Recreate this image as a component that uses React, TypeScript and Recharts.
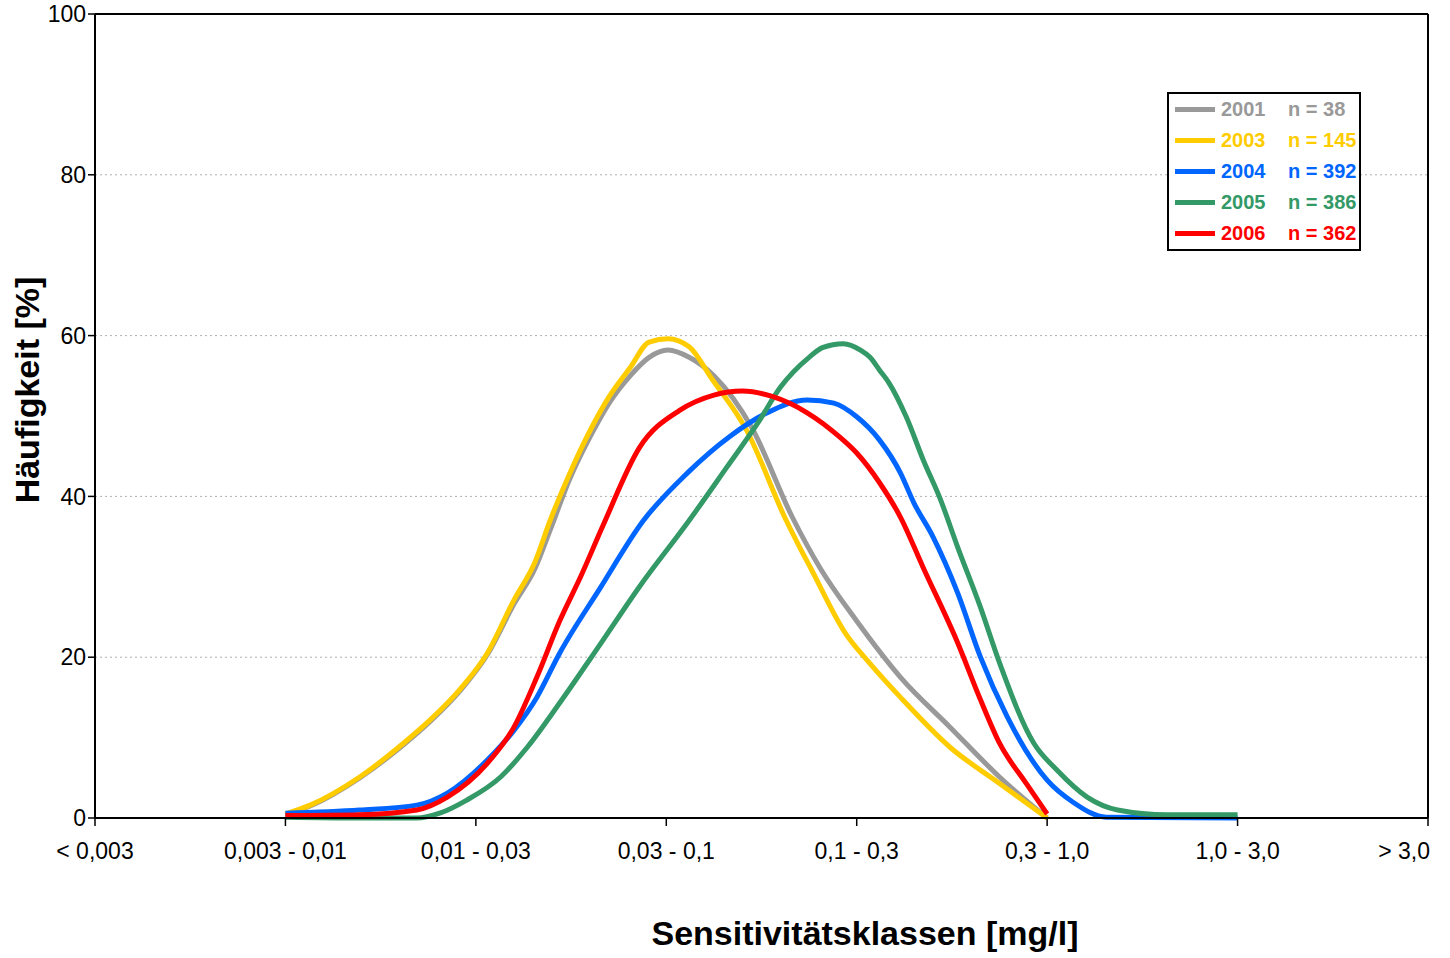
import React from "react"
import { LineChart, Line, XAxis, YAxis, CartesianGrid, ReferenceLine, Legend } from "recharts"

const classLabels = ["< 0,003", "0,003 - 0,01", "0,01 - 0,03", "0,03 - 0,1", "0,1 - 0,3", "0,3 - 1,0", "1,0 - 3,0", "> 3,0"]
const yTicks = [0, 20, 40, 60, 80, 100]

// [class position, percent]
const s2001: [number, number][] = [
  [1.0, 0.4], [1.13, 1.5], [1.39, 5.0], [1.62, 9.1], [1.76, 12.0], [1.92, 15.9], [2.06, 20.3], [2.2, 26.6],
  [2.31, 31.0], [2.39, 35.8], [2.49, 42.0], [2.62, 48.3], [2.7, 51.6], [2.81, 55.0], [2.91, 57.3], [3.01, 58.2],
  [3.12, 57.3], [3.25, 55.0], [3.45, 48.5], [3.66, 37.5], [3.81, 31.0], [4.0, 24.5], [4.23, 17.5],
  [4.49, 11.3], [4.75, 5.1], [5.0, 0],
]
const s2003: [number, number][] = [
  [1.0, 0.5], [1.13, 1.6], [1.39, 5.1], [1.62, 9.3], [1.76, 12.2], [1.92, 16.1], [2.06, 20.5], [2.2, 27.1],
  [2.31, 31.8], [2.39, 37.0], [2.49, 42.7], [2.62, 49.1], [2.7, 52.4], [2.81, 56.0], [2.91, 59.2], [3.01, 59.6],
  [3.12, 58.6], [3.24, 54.6], [3.42, 48.3], [3.63, 37.0], [3.7, 33.7], [3.76, 31.0], [3.94, 23.0], [4.07, 19.2],
  [4.23, 15.0], [4.49, 8.8], [4.75, 4.3], [5.0, 0],
]
const s2004: [number, number][] = [
  [1.0, 0.6], [1.39, 1.0], [1.69, 1.6], [1.85, 3.1], [2.06, 7.2], [2.2, 10.9], [2.32, 15.0], [2.44, 20.5],
  [2.65, 28.5], [2.88, 37.0], [3.11, 42.9], [3.33, 47.4], [3.53, 50.4], [3.74, 52.0], [3.88, 51.6], [4.0, 49.9],
  [4.12, 47.0], [4.23, 42.9], [4.3, 39.2], [4.4, 35.0], [4.53, 28.0], [4.65, 20.0], [4.79, 12.6], [5.0, 4.7],
  [5.14, 1.9], [5.31, 0.1], [6.0, 0],
]
const s2005: [number, number][] = [
  [1.0, 0.1], [1.39, 0], [1.69, 0], [1.81, 0.6], [1.95, 2.2], [2.13, 5.1], [2.27, 8.8], [2.44, 14.3],
  [2.65, 21.5], [2.86, 28.8], [3.12, 37.0], [3.32, 43.7], [3.48, 49.1], [3.6, 53.6], [3.75, 57.3], [3.82, 58.5],
  [3.93, 59.0], [4.02, 58.2], [4.07, 57.3], [4.12, 55.7], [4.17, 54.1], [4.26, 49.9], [4.35, 44.5], [4.44, 39.6],
  [4.53, 33.7], [4.65, 26.2], [4.75, 19.3], [4.93, 9.3], [5.05, 6.0], [5.21, 2.6], [5.37, 1.0], [5.63, 0.4],
  [6.0, 0.4],
]
const s2006: [number, number][] = [
  [1.0, 0.3], [1.39, 0.4], [1.69, 1.0], [1.85, 2.6], [2.06, 6.8], [2.2, 11.3], [2.32, 17.5], [2.44, 24.5],
  [2.55, 30.0], [2.67, 36.5], [2.86, 46.1], [3.07, 50.7], [3.25, 52.6], [3.4, 53.1], [3.56, 52.4], [3.74, 50.4],
  [3.91, 47.4], [4.0, 45.4], [4.12, 41.7], [4.23, 37.4], [4.35, 31.1], [4.53, 21.8], [4.65, 14.7], [4.75, 9.3],
  [4.89, 4.3], [5.0, 0.5],
]

const series = [
  { year: "2001", n: 38, color: "#999999", points: s2001 },
  { year: "2003", n: 145, color: "#FFCC00", points: s2003 },
  { year: "2004", n: 392, color: "#0066FF", points: s2004 },
  { year: "2005", n: 386, color: "#339966", points: s2005 },
  { year: "2006", n: 362, color: "#FF0000", points: s2006 },
]

const font = "'Liberation Sans', Arial, sans-serif"

function XTick(props: any) {
  const { x, y, payload } = props
  const last = payload.value === classLabels.length - 1
  return (
    <text x={last ? x + 2 : x} y={y} dy={17} textAnchor={last ? "end" : "middle"} fontSize={23} fill="#000" fontFamily={font}>
      {classLabels[payload.value]}
    </text>
  )
}

function LegendBox() {
  return (
    <div style={{ border: "2px solid #000", background: "#fff", padding: "0 0 0 6px", width: 194, height: 159, boxSizing: "border-box", fontFamily: font }}>
      {series.map((s) => (
        <div key={s.year} style={{ display: "flex", alignItems: "center", height: 31, fontWeight: "bold", fontSize: 20, color: s.color }}>
          <div style={{ width: 40, height: 5, background: s.color, marginRight: 6 }} />
          <span style={{ width: 67 }}>{s.year}</span>
          <span>n = {s.n}</span>
        </div>
      ))}
    </div>
  )
}

export default function App() {
  return (
    <div style={{ position: "absolute", left: 0, top: 0, width: 1450, height: 958, background: "#fff" }}>
      <LineChart width={1450} height={958} margin={{ top: 14, right: 22, bottom: 100, left: 0 }}>
        <CartesianGrid vertical={false} stroke="#b0b0b0" strokeDasharray="2 3" />
        <XAxis
          dataKey="x"
          type="number"
          domain={[0, 7]}
          ticks={[0, 1, 2, 3, 4, 5, 6, 7]}
          height={40}
          tick={<XTick />}
          tickSize={8}
          tickMargin={16}
          axisLine={{ stroke: "#000", strokeWidth: 2 }}
          tickLine={{ stroke: "#000", strokeWidth: 1.5 }}
          allowDataOverflow
        />
        <YAxis
          type="number"
          domain={[0, 100]}
          ticks={yTicks}
          width={95}
          tickSize={7}
          tickMargin={2}
          tick={{ fontSize: 23, fill: "#000", fontFamily: font }}
          axisLine={{ stroke: "#000", strokeWidth: 2 }}
          tickLine={{ stroke: "#000", strokeWidth: 1.5 }}
        />
        <ReferenceLine y={100} stroke="#000" strokeWidth={2} ifOverflow="visible" />
        <ReferenceLine x={7} stroke="#000" strokeWidth={2} ifOverflow="visible" />
        {series.map((s) => (
          <Line
            key={s.year}
            data={s.points.map(([x, y]) => ({ x, y }))}
            dataKey="y"
            type="monotone"
            stroke={s.color}
            strokeWidth={5}
            dot={false}
            activeDot={false}
            isAnimationActive={false}
          />
        ))}
        <Legend
          layout="horizontal"
          verticalAlign="middle"
          align="center"
          content={<LegendBox />}
          wrapperStyle={{ left: 1167, top: 92, width: 194, height: 159 }}
        />
      </LineChart>
      <div style={{ position: "absolute", left: 0, top: 914, width: 1730, textAlign: "center", fontFamily: font, fontWeight: "bold", fontSize: 34, color: "#000" }}>
        Sensitivitätsklassen [mg/l]
      </div>
      <div
        style={{
          position: "absolute",
          left: 27,
          top: 390,
          transform: "translate(-50%, -50%) rotate(-90deg)",
          whiteSpace: "nowrap",
          fontFamily: font,
          fontWeight: "bold",
          fontSize: 34,
          color: "#000",
        }}
      >
        Häufigkeit [%]
      </div>
    </div>
  )
}
